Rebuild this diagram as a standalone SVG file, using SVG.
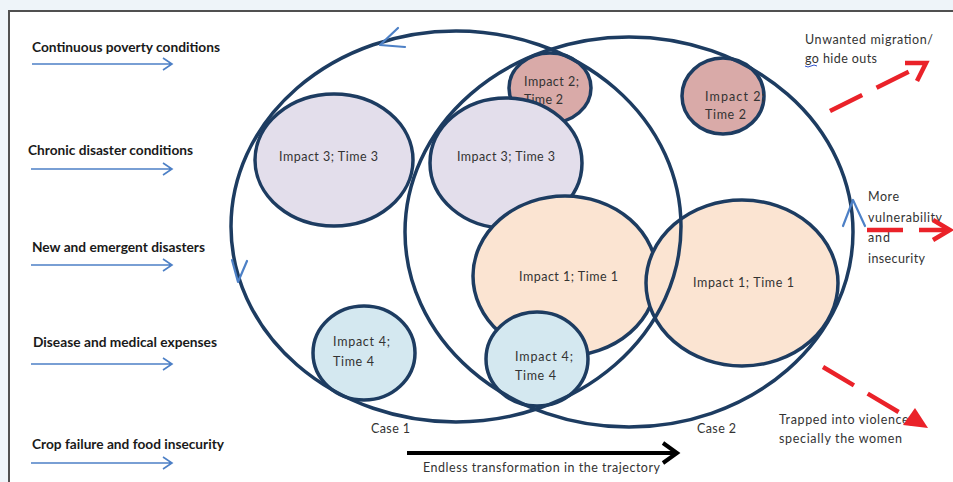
<svg xmlns="http://www.w3.org/2000/svg" width="953" height="482" viewBox="0 0 953 482">
<defs>
<style>
.bg{fill:#eef4f9}
.frame{fill:#ffffff;stroke:#505050;stroke-width:2}
.big{fill:none;stroke:#1d3c61;stroke-width:3.5}
.c{stroke:#1d3c61;stroke-width:3.5}
.lav{fill:#e3deeb}
.pink{fill:#d9aaa8}
.peach{fill:#fbe4d2}
.lblue{fill:#d4e8f0}
.in{fill:none;stroke:#4d80c6;stroke-width:1.6}
.chev{fill:none;stroke:#4d80c6;stroke-width:2.2;stroke-linecap:round;stroke-linejoin:round}
.red{fill:none;stroke:#ea2229;stroke-width:4.5;stroke-dasharray:36 16}
.redh{fill:none;stroke:#ea2229;stroke-width:4.5;stroke-linejoin:miter}
.hd{font-family:Lato,"Liberation Sans",sans-serif;font-weight:bold;font-size:13px;fill:#1a1a1a}
.t{font-family:Lato,"Liberation Sans",sans-serif;font-size:12.5px;fill:#333}
</style>
</defs>
<rect class="bg" x="0" y="0" width="953" height="482"/>
<rect class="frame" x="9" y="11" width="960" height="490"/>

<g id="inputs">
<g id="in1"><text class="hd" x="32" y="52" textLength="188" lengthAdjust="spacingAndGlyphs">Continuous poverty conditions</text>
<path class="in" d="M32,64 H172 M163,58 L172,64 L163,70"/></g>
<g id="in2"><text class="hd" x="28" y="155" textLength="165" lengthAdjust="spacingAndGlyphs">Chronic disaster conditions</text>
<path class="in" d="M31,169 H172 M163,163 L172,169 L163,175"/></g>
<g id="in3"><text class="hd" x="32" y="252" textLength="173" lengthAdjust="spacingAndGlyphs">New and emergent disasters</text>
<path class="in" d="M31,265 H172 M163,259 L172,265 L163,271"/></g>
<g id="in4"><text class="hd" x="33" y="347" textLength="184" lengthAdjust="spacingAndGlyphs">Disease and medical expenses</text>
<path class="in" d="M31,364 H172 M163,358 L172,364 L163,370"/></g>
<g id="in5"><text class="hd" x="32" y="449" textLength="192" lengthAdjust="spacingAndGlyphs">Crop failure and food insecurity</text>
<path class="in" d="M31,463 H172 M163,457 L172,463 L163,469"/></g>
</g>

<g id="impact3-left"><ellipse class="c lav" cx="334" cy="160" rx="79" ry="66"/>
<text class="t" x="279" y="161" textLength="99">Impact 3; Time 3</text></g>

<g id="impact2-mid"><ellipse class="c pink" cx="550" cy="88" rx="41" ry="35"/>
<text class="t" x="524" y="86" textLength="55">Impact 2;</text>
<text class="t" x="524" y="104" textLength="39">Time 2</text></g>

<g id="impact3-mid"><ellipse class="c lav" cx="506" cy="163" rx="76" ry="65"/>
<text class="t" x="457" y="161" textLength="98">Impact 3; Time 3</text></g>

<g id="impact1-mid"><ellipse class="c peach" cx="565" cy="276" rx="92" ry="80"/>
<text class="t" x="519" y="281" textLength="99">Impact 1; Time 1</text></g>

<g id="impact4-mid"><ellipse class="c lblue" cx="537" cy="359" rx="51" ry="47"/>
<text class="t" x="515" y="361" textLength="58">Impact 4;</text>
<text class="t" x="515" y="380" textLength="41">Time 4</text></g>

<g id="impact1-right"><ellipse class="c peach" cx="742" cy="283" rx="96" ry="83"/>
<text class="t" x="693" y="287" textLength="101">Impact 1; Time 1</text></g>

<g id="impact2-right"><ellipse class="c pink" cx="723" cy="96" rx="41" ry="38"/>
<text class="t" x="705" y="101" textLength="60">Impact 2;</text>
<text class="t" x="705" y="119" textLength="41">Time 2</text></g>

<g id="impact4-left"><ellipse class="c lblue" cx="364" cy="353" rx="51" ry="47"/>
<text class="t" x="333" y="346" textLength="57">Impact 4;</text>
<text class="t" x="333" y="366" textLength="41">Time 4</text></g>

<g id="case1"><ellipse class="big" cx="456" cy="226.5" rx="225" ry="195.5"/>
<text class="t" x="371" y="433" textLength="39">Case 1</text></g>
<g id="case2"><ellipse class="big" cx="629" cy="232" rx="224" ry="195"/>
<text class="t" x="697" y="433" textLength="39">Case 2</text></g>

<g id="outcomes">
<text class="t" x="805" y="44" textLength="128">Unwanted migration/</text>
<text class="t" x="805" y="63" textLength="72">go hide outs</text>
<path d="M805,66 q3,2 6,0 t6,0" fill="none" stroke="#3355cc" stroke-width="1"/>
<text class="t" x="868" y="201" textLength="31">More</text>
<text class="t" x="868" y="222" textLength="74">vulnerability</text>
<text class="t" x="868" y="242" textLength="22">and</text>
<text class="t" x="868" y="263" textLength="57">insecurity</text>
<text class="t" x="779" y="424" textLength="133">Trapped into violence,</text>
<text class="t" x="779" y="443" textLength="123">specially the women</text>
</g>

<g id="connectors">
<path class="chev" d="M398,28 L380,45 L405,47"/>
<path class="chev" d="M232,260 L238,282 L247,261"/>
<path class="chev" d="M843,226 L853,200 L865,226"/>
<path class="red" d="M830,111 L922,65"/>
<path class="redh" d="M905,63 L926,63 L917,81"/>
<path class="red" d="M867,230 L947,230"/>
<path class="redh" d="M933,220 L950,230 L933,240"/>
<path class="red" d="M823,367 L912,420"/>
<polygon points="903,425 928,428 915,408" fill="#ea2229"/>
<path d="M407,453 H674" stroke="#000" stroke-width="4" fill="none"/>
<path d="M663,443 L677,453 L663,463" stroke="#000" stroke-width="4" fill="none"/>
<text class="t" x="423" y="472" textLength="237">Endless transformation in the trajectory</text>
</g>
</svg>
